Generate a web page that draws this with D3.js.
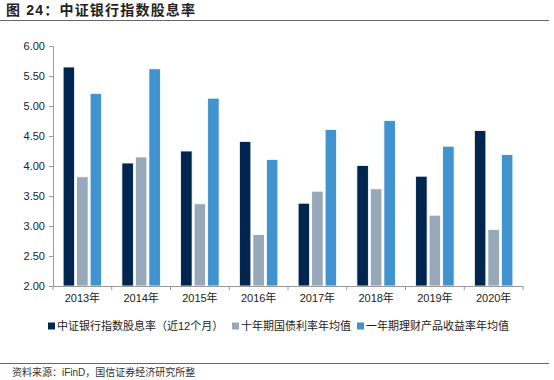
<!DOCTYPE html>
<html>
<head>
<meta charset="utf-8">
<script src="https://cdn.jsdelivr.net/npm/d3@7"></script>
<style>
  body { margin: 0; background: #fff; }
  text { font-family: "Liberation Sans", Arial, "Noto Sans CJK SC", sans-serif; }
</style>
</head>
<body>
<script>
// data
var years = ["2013年", "2014年", "2015年", "2016年", "2017年", "2018年", "2019年", "2020年"];
var seriesNames = ["中证银行指数股息率（近12个月）", "十年期国债利率年均值", "一年期理财产品收益率年均值"];
var dividend = [5.65, 4.05, 4.25, 4.41, 3.38, 4.01, 3.83, 4.59];
var bond10y = [3.82, 4.15, 3.37, 2.86, 3.58, 3.62, 3.18, 2.94];
var wealth1y = [5.21, 5.62, 5.13, 4.11, 4.61, 4.76, 4.33, 4.19];
var yTicks = [2.0, 2.5, 3.0, 3.5, 4.0, 4.5, 5.0, 5.5, 6.0];
var colors = ["#00264f", "#97a8b9", "#4193d0"];

var width = 554, height = 380;
var svg = d3.select("body").append("svg")
  .attr("width", width)
  .attr("height", height);

// title
svg.append("text")
  .attr("x", 6).attr("y", 15)
  .attr("font-size", 14).attr("font-weight", "bold")
  .attr("letter-spacing", 1.2)
  .attr("fill", "#222")
  .text("图 24：中证银行指数股息率");
svg.append("line")
  .attr("x1", 0).attr("x2", 549).attr("y1", 20.5).attr("y2", 20.5)
  .attr("stroke", "#666").attr("stroke-width", 1.2);

var plotL = 53, plotR = 523, plotT = 46, plotB = 286;

var x = d3.scaleBand().domain(years).range([plotL, plotR]).paddingInner(0).paddingOuter(0);
var x1 = d3.scaleBand().domain([0, 1, 2]).range([0, x.bandwidth()]).paddingOuter(0.75).paddingInner(0.15);
var y = d3.scaleLinear().domain([2, 6]).range([plotB, plotT]);

// y axis
var yAxis = svg.append("g")
  .attr("transform", "translate(" + plotL + ",0)")
  .call(d3.axisLeft(y).tickValues(yTicks).tickSize(4).tickPadding(4).tickFormat(d3.format(".2f")));
yAxis.select(".domain").attr("stroke", "#999");
yAxis.selectAll(".tick line").attr("stroke", "#999");
yAxis.selectAll("text").attr("font-size", 11).attr("fill", "#222")
  .attr("font-family", "Liberation Sans, Arial, sans-serif");

// bars
var allSeries = [dividend, bond10y, wealth1y];
allSeries.forEach(function (vals, s) {
  svg.append("g").selectAll("rect")
    .data(vals)
    .enter()
    .append("rect")
    .attr("x", function (d, i) { return x(years[i]) + x1(s); })
    .attr("y", function (d) { return y(d); })
    .attr("width", x1.bandwidth())
    .attr("height", function (d) { return y(2) - y(d); })
    .attr("fill", colors[s])
    .attr("stroke", "#fff")
    .attr("stroke-width", 0.8);
});

// x axis
var xAxis = svg.append("g")
  .attr("transform", "translate(0," + plotB + ")")
  .call(d3.axisBottom(x).tickSize(0).tickPadding(8));
xAxis.select(".domain").attr("stroke", "#999");
xAxis.selectAll("text").attr("font-size", 11).attr("fill", "#222");
// ticks between categories
svg.append("g").selectAll("line")
  .data(years.concat(["end"]))
  .enter()
  .append("line")
  .attr("x1", function (d, i) { return plotL + i * x.bandwidth(); })
  .attr("x2", function (d, i) { return plotL + i * x.bandwidth(); })
  .attr("y1", plotB).attr("y2", plotB + 4)
  .attr("stroke", "#999");

// legend
var legendX = [48, 232, 357];
var legend = svg.append("g").selectAll("g")
  .data(seriesNames)
  .enter()
  .append("g")
  .attr("transform", function (d, i) { return "translate(" + legendX[i] + ",326)"; });
legend.append("rect")
  .attr("x", 0).attr("y", -3.5).attr("width", 7).attr("height", 7)
  .attr("fill", function (d, i) { return colors[i]; });
legend.append("text")
  .attr("x", 9).attr("y", 4)
  .attr("font-size", 11).attr("fill", "#222")
  .text(function (d) { return d; });

// source
svg.append("line")
  .attr("x1", 0).attr("x2", 549).attr("y1", 363.5).attr("y2", 363.5)
  .attr("stroke", "#666").attr("stroke-width", 1.2);
svg.append("text")
  .attr("x", 12).attr("y", 376)
  .attr("font-size", 10).attr("fill", "#333")
  .text("资料来源：iFinD，国信证券经济研究所整");
</script>
</body>
</html>
